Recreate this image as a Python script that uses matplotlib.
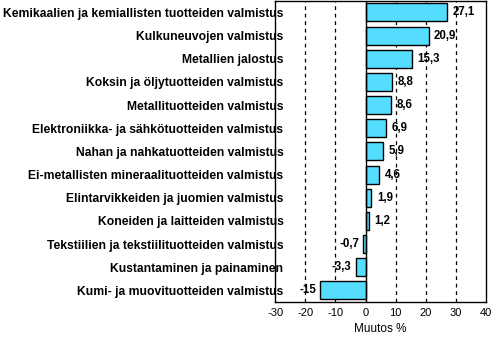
import matplotlib
matplotlib.use("Agg")
import matplotlib.pyplot as plt
import numpy as np

categories = [
    "Kemikaalien ja kemiallisten tuotteiden valmistus",
    "Kulkuneuvojen valmistus",
    "Metallien jalostus",
    "Koksin ja öljytuotteiden valmistus",
    "Metallituotteiden valmistus",
    "Elektroniikka- ja sähkötuotteiden valmistus",
    "Nahan ja nahkatuotteiden valmistus",
    "Ei-metallisten mineraalituotteiden valmistus",
    "Elintarvikkeiden ja juomien valmistus",
    "Koneiden ja laitteiden valmistus",
    "Tekstiilien ja tekstiilituotteiden valmistus",
    "Kustantaminen ja painaminen",
    "Kumi- ja muovituotteiden valmistus",
]
values = [27.1, 20.9, 15.3, 8.8, 8.6, 6.9, 5.9, 4.6, 1.9, 1.2, -0.7, -3.3, -15]
value_labels = ["27,1", "20,9", "15,3", "8,8", "8,6", "6,9", "5,9", "4,6", "1,9", "1,2", "-0,7", "-3,3", "-15"]
xticks = [-30, -20, -10, 0, 10, 20, 30, 40]

plt.rcParams['font.family'] = ['Liberation Sans', 'DejaVu Sans']

fig = plt.figure(figsize=(4.93, 3.38), dpi=100)
ax = fig.add_axes([0.558, 0.1065, 0.428, 0.891])

y = np.arange(len(categories))
ax.set_xlim(-30, 40)
ax.set_ylim(len(categories) - 0.5, -0.5)

for gx in [-20, -10, 10, 20, 30]:
    ax.axvline(gx, color='black', linestyle=(0, (3, 3)), linewidth=0.9, zorder=1)

ax.barh(y, values, height=0.78, color='#55DDFF', edgecolor='black', linewidth=1.0, zorder=2)
ax.axvline(0, color='black', linewidth=1.0, zorder=3)

for yi, v, lab in zip(y, values, value_labels):
    if v >= 0:
        ax.annotate(lab, (v, yi), xytext=(4, 0), textcoords='offset points',
                    ha='left', va='center', fontsize=8.3, fontweight='bold', zorder=4)
    else:
        ax.annotate(lab, (v, yi), xytext=(-3, 0), textcoords='offset points',
                    ha='right', va='center', fontsize=8.3, fontweight='bold', zorder=4)

ax.set_yticks(y)
ax.set_yticklabels(categories, fontsize=8.7, fontweight='bold')
ax.tick_params(axis='y', length=0, pad=-6)
for t in ax.get_yticklabels():
    t.set_zorder(5)

ax.set_xticks(xticks)
ax.set_xticklabels([str(t) for t in xticks], fontsize=8)
ax.tick_params(axis='x', length=0, pad=4)
ax.set_xlabel("Muutos %", fontsize=8.5, labelpad=4)

for s in ax.spines.values():
    s.set_linewidth(1.0)

fig.savefig("out.png", dpi=100)
